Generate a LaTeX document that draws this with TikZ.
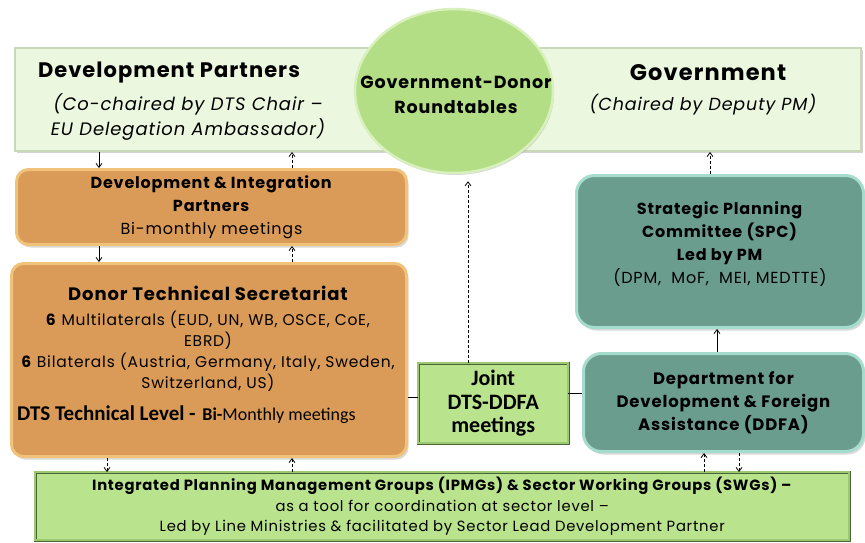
\documentclass[tikz,border=0pt]{standalone}
\usepackage{fontspec}
\setmainfont{Poppins}[LetterSpace=5]
\newfontfamily\calib{Carlito}
\usetikzlibrary{shapes.geometric,shadows,arrows.meta}

\definecolor{paleGreen}{HTML}{EBF7DF}
\definecolor{paleEdge}{HTML}{C8D8B8}
\definecolor{roundGreen}{HTML}{B3DE86}
\definecolor{roundEdge}{HTML}{D8F0BC}
\definecolor{dipOrange}{HTML}{DB9B58}
\definecolor{dipEdge}{HTML}{F0C27A}
\definecolor{spcTeal}{HTML}{6B9D8E}
\definecolor{spcEdge}{HTML}{A6DCCD}
\definecolor{jointGreen}{HTML}{B9E38D}
\definecolor{jointEdge}{HTML}{4A6636}
\definecolor{jointBevel}{HTML}{9CC872}

\begin{document}
\begin{tikzpicture}[x=1pt, y=-1pt, >={Straight Barb[length=4pt,width=6pt]},
    every node/.style={inner sep=0pt, text=black},
    toppanel/.style={draw=paleEdge, line width=2pt, fill=paleGreen,
        drop shadow={shadow xshift=2pt, shadow yshift=-2pt, opacity=0.35}},
    roundtable/.style={ellipse, draw=roundEdge, line width=2.5pt, fill=roundGreen,
        drop shadow={shadow xshift=1pt, shadow yshift=-2pt, opacity=0.3}},
    donorbox/.style={draw=dipEdge, line width=3pt, fill=dipOrange, rounded corners=12pt,
        drop shadow={shadow xshift=2pt, shadow yshift=-3pt, opacity=0.3}},
    govbox/.style={draw=spcEdge, line width=3pt, fill=spcTeal, rounded corners=18pt,
        drop shadow={shadow xshift=2pt, shadow yshift=-3pt, opacity=0.3}},
    jointbox/.style={draw=jointEdge, double=jointBevel, double distance=2.5pt, fill=jointGreen},
    link/.style={line width=0.8pt},
    dashlink/.style={line width=0.8pt, dash pattern=on 3pt off 2pt}]

    \useasboundingbox (0,0) rectangle (865,542);

    % Top panel and roundtable
    \node[toppanel, anchor=north west, minimum width=846pt, minimum height=103pt] (top) at (14,47) {};
    \node[font=\fontsize{21}{24}\selectfont\bfseries] (dptitle) at (169,73) {Development Partners};
    \node[font=\fontsize{18}{25}\selectfont\itshape, align=center] (dpsub) at (188,117)
        {(Co-chaired by DTS Chair --\\EU Delegation Ambassador)};
    \node[font=\fontsize{22.5}{24}\selectfont\bfseries] (govtitle) at (708,73) {Government};
    \node[font=\fontsize{17.5}{24}\selectfont\itshape] (govsub) at (703,105) {(Chaired by Deputy PM)};
    \node[roundtable, minimum width=198pt, minimum height=164pt] (round) at (454,91) {};
    \node[font=\fontsize{17.5}{25}\selectfont\bfseries, align=center] (roundtext) at (456,95)
        {Government-Donor\\Roundtables};

    % Donor side
    \node[donorbox, anchor=north west, minimum width=390pt, minimum height=75pt,
        font=\fontsize{16}{23}\selectfont, align=center] (dip) at (15,168)
        {\textbf{Development \& Integration}\\\textbf{Partners}\\Bi-monthly meetings};
    \node[donorbox, anchor=north west, minimum width=395pt, minimum height=193pt] (dts) at (10,262) {};
    \node[font=\fontsize{15.5}{21}\selectfont, align=center] (dtsbody) at (208,339)
        {{\fontsize{18}{21}\selectfont\bfseries Donor Technical Secretariat}\\[4pt]
         \textbf{6} Multilaterals (EUD, UN, WB, OSCE, CoE,\\EBRD)\\
         \textbf{6} Bilaterals (Austria, Germany, Italy, Sweden,\\Switzerland, US)};
    \node[anchor=base west, font=\calib] (dtslevel) at (17,420)
        {{\fontsize{21}{22}\selectfont\bfseries DTS Technical Level -}\ \ \ {\fontsize{18}{22}\selectfont\bfseries Bi-}{\fontsize{18}{22}\selectfont Monthly meetings}};

    % Government side
    \node[govbox, anchor=north west, minimum width=287pt, minimum height=152pt] (spc) at (575,174) {};
    \node[font=\fontsize{16}{23}\selectfont, align=center] (spctext) at ([yshift=7pt]spc.center)
        {\textbf{Strategic Planning}\\\textbf{Committee (SPC)}\\\textbf{Led by PM}\\(DPM,\ \ MoF,\ \ MEI, MEDTTE)};
    \node[govbox, anchor=north west, minimum width=280pt, minimum height=98pt,
        font=\fontsize{16.5}{23}\selectfont\bfseries, align=center] (ddfa) at (582,352)
        {Department for\\Development \& Foreign\\Assistance (DDFA)};

    % Joint meetings and sector groups
    \node[jointbox, anchor=north west, minimum width=150pt, minimum height=80pt,
        font=\calib\fontsize{22}{23.5}\selectfont\bfseries, align=center] (joint) at (418,363)
        {Joint\\DTS-DDFA\\meetings};
    \node[jointbox, anchor=north west, minimum width=814pt, minimum height=68pt,
        font=\fontsize{14.8}{20.5}\selectfont, align=center] (ipmg) at (35,472)
        {\textbf{Integrated Planning Management Groups (IPMGs) \& Sector Working Groups (SWGs) --}\\
         as a tool for coordination at sector level --\\
         Led by Line Ministries \& facilitated by Sector Lead Development Partner};

    % Columns for the connectors
    \coordinate (colA) at (99,0);
    \coordinate (colB) at (292,0);
    \coordinate (colC) at (107,0);
    \coordinate (colD) at (468,0);
    \coordinate (colE) at (710,0);
    \coordinate (colF) at (717,0);
    \coordinate (colG) at (704,0);
    \coordinate (colH) at (739,0);
    \coordinate (rowA) at (0,397);
    \coordinate (rowB) at (0,393);

    % Connectors
    \draw[link, ->] (top.south -| colA) -- (dip.north -| colA);
    \draw[dashlink, ->] (dip.north -| colB) -- (top.south -| colB);
    \draw[link, ->] (dip.south -| colA) -- (dts.north -| colA);
    \draw[dashlink, ->] (dts.north -| colB) -- (dip.south -| colB);
    \draw[dashlink, ->] (dts.south -| colC) -- (ipmg.north -| colC);
    \draw[dashlink, ->] (ipmg.north -| colB) -- (dts.south -| colB);
    \draw[link] (dts.east |- rowA) -- (joint.west |- rowA);
    \draw[link] (joint.east |- rowB) -- (ddfa.west |- rowB);
    \draw[dashlink, ->, shorten >=7pt] (joint.north -| colD) -- (round.south -| colD);
    \draw[dashlink, ->] (spc.north -| colE) -- (top.south -| colE);
    \draw[link, ->] (ddfa.north -| colF) -- (spc.south -| colF);
    \draw[dashlink, ->] (ddfa.south -| colH) -- (ipmg.north -| colH);
    \draw[dashlink, ->] (ipmg.north -| colG) -- (ddfa.south -| colG);

\end{tikzpicture}
\end{document}
